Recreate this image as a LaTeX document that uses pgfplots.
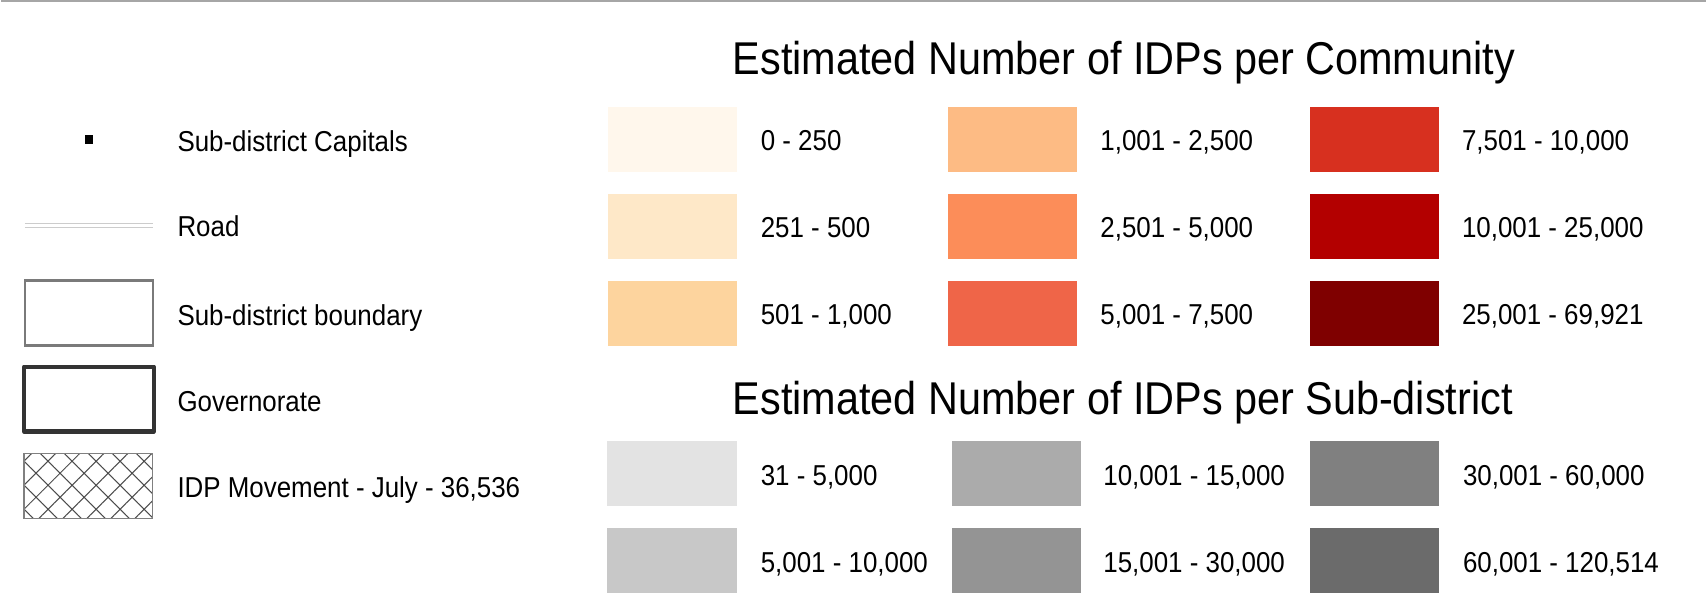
\documentclass[border=0pt]{standalone}
\usepackage{fontspec}
\setmainfont{Liberation Sans}[FakeStretch=0.9]
\usepackage{pgfplots}
\pgfplotsset{compat=1.18}
\usetikzlibrary{patterns.meta}

\definecolor{o1}{HTML}{FFF7EC}
\definecolor{o2}{HTML}{FEE8C8}
\definecolor{o3}{HTML}{FDD49E}
\definecolor{o4}{HTML}{FDBB84}
\definecolor{o5}{HTML}{FC8D59}
\definecolor{o6}{HTML}{EF6548}
\definecolor{o7}{HTML}{D7301F}
\definecolor{o8}{HTML}{B30000}
\definecolor{o9}{HTML}{7F0000}
\definecolor{g1}{HTML}{E3E3E3}
\definecolor{g2}{HTML}{C8C8C8}
\definecolor{g3}{HTML}{ABABAB}
\definecolor{g4}{HTML}{949494}
\definecolor{g5}{HTML}{808080}
\definecolor{g6}{HTML}{6B6B6B}

% x1 y1 x2 y2 colour
\newcommand{\swatch}[5]{\addplot[fill=#5, draw=none, forget plot] coordinates {(#1,#2) (#3,#2) (#3,#4) (#1,#4)} -- cycle;}
\newcommand{\lab}[3]{\node[anchor=base west, inner sep=0pt, font=\fontsize{8.2}{10}\selectfont] at (axis cs:#1,#2) {#3};}
\newcommand{\ttl}[3]{\node[anchor=base west, inner sep=0pt, font=\fontsize{13.1}{15}\selectfont] at (axis cs:#1,#2) {#3};}

\begin{document}
\begin{tikzpicture}
\begin{axis}[scale only axis, width=170.7mm, height=60.6mm,
  xmin=0, xmax=1707, ymin=0, ymax=606, y dir=reverse,
  hide axis, clip=false]
\draw[draw=none] (rel axis cs:0,0) rectangle (rel axis cs:1,1);

% top rule
\addplot[color=black!35, line width=0.57pt, forget plot] coordinates {(0,1.2) (1707,1.2)};

% ---- left legend ----
\swatch{84}{135}{92}{144}{black}
\addplot[color=black!20, line width=0.37pt, forget plot] coordinates {(24,223.5) (152,223.5)};
\addplot[color=black!20, line width=0.37pt, forget plot] coordinates {(24,228) (152,228)};
\addplot[draw=black!52, line width=0.75pt, fill=white, forget plot] coordinates {(24,281) (152,281) (152,346) (24,346)} -- cycle;
\addplot[draw=black!80, line width=1.15pt, line join=round, fill=white, forget plot] coordinates {(23,367) (153,367) (153,432) (23,432)} -- cycle;
\addplot[pattern={Hatch[angle=45, distance=1.7mm, line width=0.3pt]}, pattern color=black!70, draw=black!50, line width=0.3pt, forget plot] coordinates {(23,454) (152,454) (152,519) (23,519)} -- cycle;

\lab{176}{152}{Sub-district Capitals}
\lab{176}{237}{Road}
\lab{176}{326}{Sub-district boundary}
\lab{176}{412}{Governorate}
\lab{176}{498}{IDP Movement - July - 36,536}

% ---- community legend ----
\ttl{732}{75}{Estimated Number of IDPs per Community}
\swatch{608}{107}{737}{172}{o1}
\swatch{608}{194}{737}{259}{o2}
\swatch{608}{281}{737}{346}{o3}
\swatch{948}{107}{1077}{172}{o4}
\swatch{948}{194}{1077}{259}{o5}
\swatch{948}{281}{1077}{346}{o6}
\swatch{1311}{107}{1440}{172}{o7}
\swatch{1311}{194}{1440}{259}{o8}
\swatch{1311}{281}{1440}{346}{o9}
\lab{760}{151}{0 - 250}
\lab{760}{238}{251 - 500}
\lab{760}{325}{501 - 1,000}
\lab{1100}{151}{1,001 - 2,500}
\lab{1100}{238}{2,501 - 5,000}
\lab{1100}{325}{5,001 - 7,500}
\lab{1462}{151}{7,501 - 10,000}
\lab{1462}{238}{10,001 - 25,000}
\lab{1462}{325}{25,001 - 69,921}

% ---- sub-district legend ----
\ttl{732}{415}{Estimated Number of IDPs per Sub-district}
\swatch{607}{442}{737}{507}{g1}
\swatch{607}{529}{737}{594}{g2}
\swatch{952}{442}{1081}{507}{g3}
\swatch{952}{529}{1081}{594}{g4}
\swatch{1311}{442}{1440}{507}{g5}
\swatch{1311}{529}{1440}{594}{g6}
\lab{760}{486}{31 - 5,000}
\lab{760}{573}{5,001 - 10,000}
\lab{1103}{486}{10,001 - 15,000}
\lab{1103}{573}{15,001 - 30,000}
\lab{1463}{486}{30,001 - 60,000}
\lab{1463}{573}{60,001 - 120,514}
\end{axis}
\end{tikzpicture}
\end{document}
